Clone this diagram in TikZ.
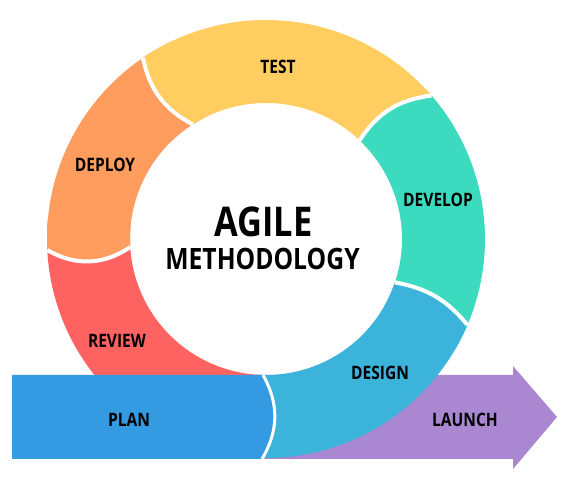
\documentclass[tikz,border=0pt]{standalone}
\usepackage{fontspec}
\newfontfamily\agilefont[FakeStretch=0.84]{Open Sans}
\definecolor{testc}{RGB}{255,205,96}
\definecolor{deployc}{RGB}{255,157,94}
\definecolor{reviewc}{RGB}{255,99,97}
\definecolor{developc}{RGB}{60,219,192}
\definecolor{designc}{RGB}{59,179,219}
\definecolor{planc}{RGB}{52,155,227}
\definecolor{launchc}{RGB}{169,135,209}

\begin{document}
\begin{tikzpicture}[x=1pt, y=1pt]
    \tikzstyle{every node}=[inner sep=0pt, font=\agilefont\bfseries\fontsize{18.5}{20}\selectfont]
    \tikzstyle{seam}=[draw=white, line width=4pt]
    \tikzstyle{title}=[font=\agilefont\bfseries\fontsize{41}{44}\selectfont]
    \tikzstyle{subtitle}=[font=\agilefont\bfseries\fontsize{29.4}{32}\selectfont]
    \useasboundingbox (0,0) rectangle (566,480);
    \fill[white] (0,0) rectangle (566,480);
    % launch arrow, behind the ring
    \fill[launchc] (250,105) -- (513,105) -- (513,114) -- (557,63) -- (513,11) -- (513,21) -- (250,21) -- cycle;
    \begin{scope}[shift={(266,241)}]
        % ring pieces, each one over the one before it
        \fill[reviewc] (175:219) arc[start angle=175, end angle=268, radius=219] -- (268:136) arc[start angle=268, end angle=175, radius=136] -- cycle;
        \fill[deployc] (115:219) arc[start angle=115, end angle=182.9, radius=219] to[bend right=32] (183.4:136) arc[start angle=183.4, end angle=115, radius=136] -- cycle;
        \draw[seam] (182.9:219) to[bend right=32] (183.4:136);
        \fill[testc] (35:219) arc[start angle=35, end angle=124.2, radius=219] to[bend right=25] (122.6:136) arc[start angle=122.6, end angle=35, radius=136] -- cycle;
        \draw[seam] (124.2:219) to[bend right=25] (122.6:136);
        \fill[developc] (-30:219) arc[start angle=-30, end angle=40.9, radius=219] to[bend right=25] (46.5:136) arc[start angle=46.5, end angle=-30, radius=136] -- cycle;
        \draw[seam] (40.9:219) to[bend right=25] (46.5:136);
        \fill[designc] (-93:219) arc[start angle=-93, end angle=-23.1, radius=219] to[bend right=20] (-18.6:136) arc[start angle=-18.6, end angle=-93, radius=136] -- cycle;
        \draw[seam] (-23.1:219) to[bend right=20] (-18.6:136);
    \end{scope}
    % plan bar, in front
    \fill[planc] (12,105) -- (263,105) to[bend left=30] (262,21) -- (12,21) -- cycle;
    \draw[seam, line width=3pt] (263,105) to[bend left=30] (262,21);
    % labels
    \node (test) at (278,413) {TEST};
    \node (develop) at (438,280) {DEVELOP};
    \node (deploy) at (105,315) {DEPLOY};
    \node (review) at (117,139) {REVIEW};
    \node (design) at (380,107) {DESIGN};
    \node (plan) at (129,60) {PLAN};
    \node (launch) at (465,60) {LAUNCH};
    \node [title] (agile) at (263.5,258.5) {AGILE};
    \node [subtitle] (method) at (262.5,221) {METHODOLOGY};
\end{tikzpicture}
\end{document}
